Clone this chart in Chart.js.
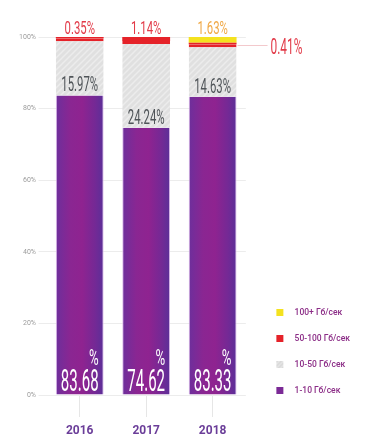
<!DOCTYPE html>
<html>
<head>
<meta charset="utf-8">
<script src="https://cdn.jsdelivr.net/npm/chart.js@4.4.1/dist/chart.umd.min.js"></script>
<style>
  html, body { margin: 0; padding: 0; background: #ffffff; }
  #wrap { position: relative; width: 372px; height: 446px; }
</style>
</head>
<body>
<div id="wrap"><canvas id="c"></canvas></div>
<script>
// ---------- data ----------
const years = ['2016', '2017', '2018'];
const seriesNames = ['1-10 Гб/сек', '10-50 Гб/сек', '50-100 Гб/сек', '100+ Гб/сек'];
const share1to10   = [83.68, 74.62, 83.33];
const share10to50  = [15.97, 24.24, 14.63];
const share50to100 = [0.35, 1.14, 0.41];
const share100plus = [0, 0, 1.63];
const yTickValues  = [0, 20, 40, 60, 80, 100];

// ---------- styles ----------
const BAR_PCT = 0.72;
const PURPLE = '#7b2a96';
const RED = '#e52229';
const YELLOW = '#f4e21f';

function makeHatch(w, h, base, stripe) {
  const c = document.createElement('canvas');
  c.width = w; c.height = h;
  const g = c.getContext('2d');
  g.fillStyle = base; g.fillRect(0, 0, w, h);
  g.strokeStyle = stripe; g.lineWidth = 1.5;
  g.beginPath();
  g.moveTo(0, h); g.lineTo(w, 0);
  g.moveTo(-w / 2, h / 2); g.lineTo(w / 2, -h / 2);
  g.moveTo(w / 2, h * 1.5); g.lineTo(w * 1.5, h / 2);
  g.stroke();
  return c;
}
const hatchTile = makeHatch(6, 6, '#e0e0e0', '#ececec');
const hatchPattern = document.createElement('canvas').getContext('2d').createPattern(hatchTile, 'repeat');

function makeSwatch(fill, hatched) {
  const c = document.createElement('canvas');
  c.width = 27; c.height = 7;
  const g = c.getContext('2d');
  if (hatched) {
    g.fillStyle = g.createPattern(makeHatch(4, 4, '#d6d6d6', '#e8e8e8'), 'repeat');
  } else {
    g.fillStyle = fill;
  }
  g.fillRect(13, 0, 7, 7);
  return c;
}
const swatches = [makeSwatch(PURPLE), makeSwatch(null, true), makeSwatch(RED), makeSwatch(YELLOW)];

function purpleGradient(ctx) {
  const chart = ctx.chart;
  const xs = chart.scales && chart.scales.x;
  if (!chart.chartArea || !xs || ctx.type !== 'data') return PURPLE;
  const cx = xs.getPixelForValue(ctx.dataIndex);
  const half = xs.width / years.length * BAR_PCT / 2;
  const g = chart.ctx.createLinearGradient(cx - half, 0, cx + half, 0);
  g.addColorStop(0, '#6d2f9c');
  g.addColorStop(0.3, '#8a2692');
  g.addColorStop(0.55, '#8f2390');
  g.addColorStop(0.82, '#742995');
  g.addColorStop(1, '#5b2f98');
  return g;
}

// ---------- value label plugin ----------
function condText(c, text, x, y, size, weight, color, sx, align) {
  c.save();
  c.font = weight + ' ' + size + 'px Roboto';
  c.fillStyle = color;
  c.textBaseline = 'alphabetic';
  c.textAlign = align;
  c.translate(x, y);
  c.scale(sx, 1);
  c.fillText(text, 0, 0);
  const w = c.measureText(text).width * sx;
  c.restore();
  return w;
}

const valueLabels = {
  id: 'valueLabels',
  afterDatasetsDraw(chart) {
    const c = chart.ctx;
    const mPurple = chart.getDatasetMeta(0).data;
    const mRed = chart.getDatasetMeta(2).data;
    const mYellow = chart.getDatasetMeta(3).data;
    years.forEach((yr, i) => {
      const p = mPurple[i];
      const numTxt = share1to10[i].toFixed(2);
      const base = p.base;
      const w = condText(c, numTxt, p.x, base - 4, 32, 400, '#ffffff', 0.47, 'center');
      condText(c, '%', p.x + w / 2, base - 30, 22, 400, '#ffffff', 0.6, 'right');
      condText(c, share10to50[i].toFixed(2) + '%', p.x, p.y - 4, 21, 400, '#4f5458', 0.54, 'center');
      const top = share100plus[i] > 0 ? mYellow[i] : mRed[i];
      if (share100plus[i] > 0) {
        condText(c, share100plus[i].toFixed(2) + '%', p.x, top.y - 3, 18, 400, '#f0a845', 0.63, 'center');
        const r = mRed[i];
        const ly = Math.round((r.y + r.base + 3) / 2) + 0.5;
        const right = p.x + p.width / 2;
        c.save();
        c.strokeStyle = '#f3c9cc';
        c.lineWidth = 1;
        c.beginPath();
        c.moveTo(right + 1, ly);
        c.lineTo(right + 31, ly);
        c.stroke();
        c.restore();
        condText(c, share50to100[i].toFixed(2) + '%', right + 34, ly + 8, 22, 400, '#e23a48', 0.54, 'left');
      } else {
        condText(c, share50to100[i].toFixed(2) + '%', p.x, top.y - 3, 18, 400, '#e23a48', 0.63, 'center');
      }
    });
  }
};

// ---------- chart ----------
const chart = new Chart(document.getElementById('c'), {
  type: 'bar',
  data: {
    labels: years,
    datasets: [
      { label: seriesNames[0], data: share1to10, backgroundColor: purpleGradient,
        borderColor: '#dcb8ea', borderWidth: { left: 1, right: 1, top: 0, bottom: 0 } },
      { label: seriesNames[1], data: share10to50, backgroundColor: hatchPattern,
        borderColor: RED, borderWidth: { top: 3, left: 0, right: 0, bottom: 0 } },
      { label: seriesNames[2], data: share50to100, backgroundColor: RED, borderWidth: 0 },
      { label: seriesNames[3], data: share100plus, backgroundColor: YELLOW, borderWidth: 0 }
    ]
  },
  options: {
    responsive: true,
    maintainAspectRatio: false,
    animation: false,
    datasets: { bar: { barPercentage: BAR_PCT, categoryPercentage: 1, inflateAmount: 0 } },
    layout: { padding: { top: 37, right: 12, bottom: 0, left: 0 } },
    scales: {
      x: {
        stacked: true,
        border: { display: false },
        grid: { display: true, offset: false, drawOnChartArea: false, drawTicks: true, tickLength: 22, color: '#e6e6e6' },
        ticks: { color: '#6b3e99', padding: 7, font: { family: 'Roboto', size: 12, weight: 'bold' } },
        afterFit(s) { s.height = 51; }
      },
      y: {
        stacked: true,
        min: 0, max: 100,
        border: { display: false },
        afterBuildTicks(s) { s.ticks = yTickValues.map(v => ({ value: v })); },
        grid: { color: '#ececec', drawTicks: true, tickLength: 8 },
        ticks: { color: '#9c9c9c', padding: 2.5, font: { family: 'Roboto', size: 7 }, callback: v => v + '%' },
        afterFit(s) { s.width = 46.5; }
      }
    },
    plugins: {
      tooltip: { enabled: false },
      legend: {
        position: 'right',
        align: 'start',
        reverse: true,
        maxWidth: 160,
        title: { display: true, text: '', padding: { top: 253, bottom: 0 }, font: { size: 1, lineHeight: 1 } },
        labels: {
          usePointStyle: true,
          pointStyleWidth: 27,
          boxHeight: 7,
          padding: 17.5,
          color: '#8b2c86',
          font: { family: 'Roboto', size: 8.5, weight: '500' },
          generateLabels(ch) {
            const items = Chart.defaults.plugins.legend.labels.generateLabels(ch);
            items.forEach(it => { it.pointStyle = swatches[it.datasetIndex]; it.fontColor = '#8b2c86'; });
            return items;
          }
        }
      }
    }
  },
  plugins: [valueLabels]
});
</script>
</body>
</html>
